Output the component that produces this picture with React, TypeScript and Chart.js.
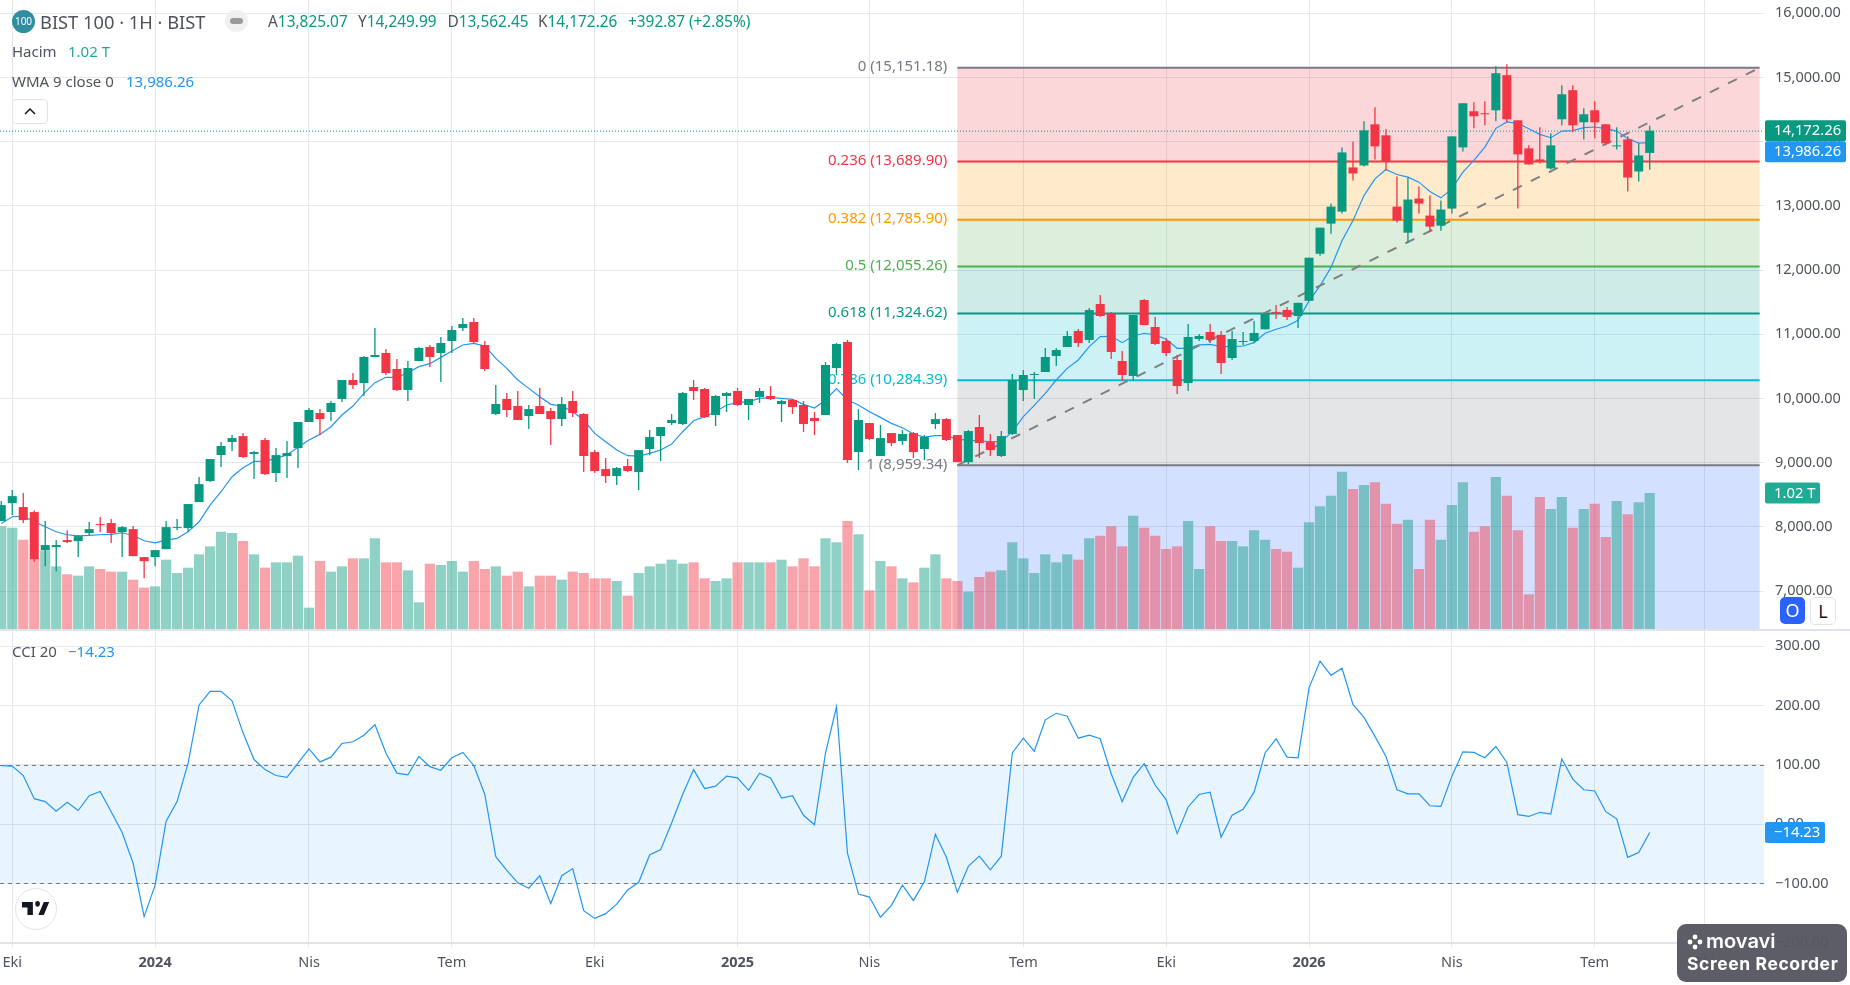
import React, { useEffect, useRef } from "react";
import { Chart, registerables } from "chart.js";

Chart.register(...registerables);

const FONT = '"Noto Sans", Roboto, sans-serif';

const opens = [
  8091,8371,8309,8231,7639,7685,7795,7779,7904,8044,
  8060,7919,7966,7530,7530,7654,7982,7982,8387,8714,
  9119,9322,9415,9135,9353,8839,9104,9228,9634,9774,
  9790,9992,10288,10241,10647,10709,10460,10132,10584,10803,
  10709,10896,11099,11192,10834,9758,9992,9883,9727,9883,
  9805,9680,9961,9758,9166,8901,8792,8948,8854,9213,
  9415,9618,9602,10179,10148,9743,10039,10117,9899,10023,
  10039,9914,9977,9899,9696,9743,10475,10880,9166,9618,
  9104,9462,9338,9462,9213,9602,9680,9431,9010,9556,
  9322,9104,9447,10132,10366,10413,10662,10803,11052,10912,
  11472,11317,10584,10351,11534,11114,10896,10600,10241,10927,
  11036,10990,10631,10880,10896,11078,11349,11380,11286,11521,
  12255,12724,12911,13599,13630,14271,14099,12989,12583,13114,
  12849,12693,12958,13911,14474,14443,14489,15036,14333,13896,
  13724,13583,14349,14802,14302,14489,14271,13927,14036,13536,
  13825.07,
];
const highs = [
  8402,8574,8527,8257,8091,7795,7950,7873,8075,8153,
  8122,8013,8013,7530,7639,8091,8122,8356,8776,9057,
  9322,9431,9462,9182,9384,9228,9338,9634,9852,9836,
  9961,10288,10397,10662,11099,10771,10615,10584,10803,10834,
  10958,11130,11254,11254,10896,10210,10086,10117,9899,10164,
  9852,10023,10117,9774,9197,9073,8932,9057,9197,9509,
  9556,9758,10101,10288,10164,10054,10101,10164,9992,10164,
  10195,9977,9992,9961,9790,10569,10865,10912,9836,9618,
  9587,9462,9509,9478,9431,9774,9696,9431,9509,9743,
  9447,9493,10382,10444,10413,10787,10787,11052,11083,11410,
  11612,11348,10740,11301,11550,11270,10943,10678,11161,11005,
  11161,11052,11052,11036,11208,11318,11458,11427,11490,12193,
  12661,13036,13911,14005,14317,14536,14192,13458,13442,13302,
  13161,13083,14083,14599,14614,14630,15177,15208,14333,13943,
  14224,14130,14880,14880,14521,14630,14271,14224,14083,13974,
  14249.99,
];
const lows = [
  8091,8184,8060,7457,7389,7311,7748,7530,7857,7919,
  7748,7530,7545,7202,7389,7654,7950,7919,8387,8699,
  8932,9182,9073,8745,8808,8699,8761,8917,9634,9431,
  9649,9945,10148,10039,10647,10366,10117,9961,10584,10491,
  10257,10709,11052,10849,10428,9743,9711,9665,9525,9758,
  9275,9571,9711,8854,8839,8683,8652,8854,8574,9119,
  9026,9587,9587,9977,9696,9571,9790,9883,9665,9930,
  9977,9634,9758,9478,9431,9743,10366,8995,8886,9353,
  9104,9260,9275,9073,9041,9525,9338,9010,8979,9073,
  9104,9088,9431,9961,9992,10413,10506,10803,10803,10865,
  11270,10615,10273,10288,11145,10834,10662,10070,10117,10896,
  10865,10382,10600,10833,10865,11078,11240,11224,11099,11521,
  12224,12568,12880,13396,13614,13724,13552,12740,12427,12880,
  12599,12614,12880,13849,14208,14255,14317,14302,12958,13646,
  13661,13568,14255,14146,14036,14052,13943,13880,13224,13380,
  13562.45,
];
const closes = [
  8340,8480,8106,7498,7717,7717,7764,7857,7966,8028,
  7904,7997,7545,7467,7639,7997,7997,8356,8667,9057,
  9260,9384,9088,9166,8823,9119,9150,9634,9821,9680,
  9930,10288,10210,10647,10678,10397,10132,10475,10787,10647,
  10865,11067,11161,10880,10460,9914,9821,9665,9836,9758,
  9680,9914,9774,9104,8870,8792,8917,8870,9197,9400,
  9556,9665,10086,10117,9711,10039,10086,9899,9992,10117,
  9992,9961,9867,9602,9649,10522,10849,9041,9665,9369,
  9384,9306,9447,9166,9400,9680,9353,9010,9493,9306,
  9197,9415,10288,10366,10382,10647,10756,10974,10865,11379,
  11285,10725,10366,11301,11145,10849,10709,10195,10958,10974,
  10912,10553,10927,10896,11021,11318,11333,11271,11490,12193,
  12661,12989,13833,13505,14177,13927,13693,12771,13099,13036,
  12677,12943,14083,14599,14396,14427,15067,14349,13802,13646,
  13693,13943,14739,14255,14427,14302,13974,13943,13442,13786,
  14172.26,
];
const volumes = [
  0.77,0.76,0.67,0.53,0.59,0.47,0.41,0.40,0.47,0.45,
  0.43,0.43,0.37,0.31,0.32,0.52,0.42,0.46,0.56,0.62,
  0.73,0.72,0.66,0.56,0.46,0.50,0.50,0.55,0.16,0.51,
  0.43,0.47,0.53,0.53,0.68,0.50,0.50,0.44,0.20,0.49,
  0.48,0.51,0.43,0.51,0.45,0.47,0.40,0.43,0.32,0.40,
  0.40,0.37,0.43,0.42,0.38,0.38,0.36,0.25,0.42,0.47,
  0.49,0.52,0.49,0.50,0.38,0.36,0.38,0.50,0.50,0.50,
  0.50,0.52,0.47,0.53,0.47,0.68,0.65,0.81,0.71,0.29,
  0.51,0.47,0.38,0.35,0.46,0.56,0.38,0.36,0.28,0.39,
  0.43,0.44,0.65,0.53,0.42,0.56,0.50,0.56,0.52,0.68,
  0.70,0.77,0.62,0.85,0.76,0.70,0.60,0.62,0.81,0.45,
  0.77,0.66,0.66,0.62,0.74,0.67,0.60,0.58,0.46,0.80,
  0.92,1.00,1.18,1.05,1.08,1.10,0.94,0.79,0.82,0.45,
  0.82,0.67,0.93,1.10,0.73,0.77,1.14,1.00,0.74,0.26,
  0.99,0.90,0.99,0.76,0.90,0.94,0.69,0.96,0.86,0.95,
  1.02,
];
const wma9 = [
  8054,8158,8168,8080,8002,7924,7878,7862,7867,7878,
  7883,7909,7867,7784,7753,7795,7821,7924,8080,8340,
  8548,8782,8922,9021,9021,9067,9119,9239,9353,9441,
  9561,9743,9883,10080,10247,10330,10330,10402,10496,10543,
  10641,10740,10834,10860,10818,10626,10470,10288,10158,10028,
  9909,9883,9795,9665,9457,9327,9197,9109,9104,9145,
  9197,9291,9483,9654,9717,9795,9899,9935,9951,10003,
  10013,10003,9987,9909,9852,9977,10153,9977,9899,9795,
  9706,9613,9545,9447,9400,9421,9421,9364,9353,9338,
  9327,9327,9483,9717,9893,10080,10288,10470,10600,10808,
  10964,10969,10870,10974,11016,10990,10922,10782,10782,10834,
  10844,10808,10808,10818,10870,11016,11078,11130,11219,11521,
  11755,12042,12458,12771,13161,13422,13568,13489,13448,13370,
  13224,13125,13265,13526,13708,13916,14208,14307,14286,14203,
  14114,14062,14166,14172,14219,14229,14203,14166,14047,13979,
  13986.26,
];
const cci20 = [
  98.6,98,82,43,38,22,37,23,48,55,
  21,-14,-66,-156,-103,5,38,103,201,224,
  224,208,154,109,92,82,79,103,127,105,
  113,136,139,150,168,120,86,83,114,97,
  91,112,121,99,50,-55,-78,-99,-108,-87,
  -134,-87,-75,-146,-159,-151,-135,-111,-98,-52,
  -43,2,50,92,60,64,81,78,57,86,
  78,44,48,15,-1,120,198,-49,-118,-123,
  -157,-137,-103,-129,-97,-17,-56,-115,-71,-54,
  -77,-54,120,145,123,176,187,182,145,150,
  144,85,38,79,102,66,41,-16,29,50,
  54,-22,15,25,54,120,144,113,112,230,
  275,251,263,202,180,148,114,58,51,51,
  31,30,81,122,121,112,131,104,16,13,
  20,17,110,76,58,56,21,9,-56,-48,
  -14.23,
];

const timeTickIndex = [1, 14, 28, 41, 54, 67, 79, 93, 106, 119, 132, 145, 155];
const timeTickLabels = ["Eki", "2024", "Nis", "Tem", "Eki", "2025", "Nis", "Tem", "Eki", "2026", "Nis", "Tem", "Eki"];
const priceTicks = [7000, 8000, 9000, 10000, 11000, 12000, 13000, 14000, 15000, 16000];
const cciTicks = [-200, -100, 0, 100, 200, 300];

const fibRatios = [0, 0.236, 0.382, 0.5, 0.618, 0.786, 1];
const fibValues = [15151.18, 13689.9, 12785.9, 12055.26, 11324.62, 10284.39, 8959.34];
const fibColors = ["#787b86", "#f23645", "#ff9800", "#4caf50", "#089981", "#00bcd4", "#787b86"];
const fibFills = [
  "rgba(242,54,69,0.2)", "rgba(255,152,0,0.2)", "rgba(76,175,80,0.2)",
  "rgba(8,153,129,0.2)", "rgba(0,188,212,0.2)", "rgba(120,123,134,0.2)", "rgba(41,98,255,0.2)",
];
const fibStartIndex = 87;
const fibEndIndex = 160;
const cciBand = [-100, 100];

const UP = "#089981";
const DOWN = "#f23645";
const BLUE = "#2196f3";
const GRID = "#e7e8ea";
const AXIS_TEXT = "#50535e";

const X_MIN = -0.1156;
const X_MAX = 160.4;
const AXIS_W = 86;

const isUp = (i: number) => closes[i] >= opens[i];
const fmt = (v: number) =>
  v.toLocaleString("en-US", { minimumFractionDigits: 2, maximumFractionDigits: 2 });
const signed = (v: number) => (v < 0 ? "\u2212" + fmt(-v) : fmt(v));

const xTicks = () => timeTickIndex.map((value) => ({ value }));
const noPad = (s: any) => {
  s.paddingTop = 0;
  s.paddingBottom = 0;
  s.paddingLeft = 0;
  s.paddingRight = 0;
};

function badge(ctx: CanvasRenderingContext2D, x: number, y: number, w: number, h: number, color: string, text: string) {
  ctx.save();
  ctx.fillStyle = color;
  ctx.beginPath();
  ctx.roundRect(x, y, w, h, 2);
  ctx.fill();
  ctx.fillStyle = "#fff";
  ctx.font = `14.8px ${FONT}`;
  ctx.textAlign = "left";
  ctx.textBaseline = "middle";
  ctx.fillText(text, x + 9, y + h / 2 + 0.5);
  ctx.restore();
}

const fibPlugin = {
  id: "fib",
  beforeDatasetsDraw(chart: any) {
    const { ctx, chartArea, scales } = chart;
    const l = scales.x.getPixelForValue(fibStartIndex);
    const r = scales.x.getPixelForValue(fibEndIndex);
    ctx.save();
    fibFills.forEach((c, i) => {
      const t = scales.y.getPixelForValue(fibValues[i]);
      const b = i + 1 < fibValues.length ? scales.y.getPixelForValue(fibValues[i + 1]) : chartArea.bottom;
      ctx.fillStyle = c;
      ctx.fillRect(l, t, r - l, b - t);
    });
    fibValues.forEach((v, i) => {
      const y = scales.y.getPixelForValue(v);
      ctx.strokeStyle = fibColors[i];
      ctx.lineWidth = 2;
      ctx.beginPath();
      ctx.moveTo(l, y);
      ctx.lineTo(r, y);
      ctx.stroke();
      ctx.fillStyle = fibColors[i];
      ctx.font = `15px ${FONT}`;
      ctx.textAlign = "right";
      ctx.textBaseline = "middle";
      ctx.fillText(`${fibRatios[i]} (${fmt(v)})`, l - 10, y - 1);
    });
    const lastY = scales.y.getPixelForValue(closes[closes.length - 1]);
    ctx.strokeStyle = UP;
    ctx.lineWidth = 1;
    ctx.setLineDash([1, 2]);
    ctx.beginPath();
    ctx.moveTo(chartArea.left, lastY + 0.5);
    ctx.lineTo(chartArea.right, lastY + 0.5);
    ctx.stroke();
    ctx.restore();
  },
  afterDraw(chart: any) {
    const { ctx, scales } = chart;
    const lastY = scales.y.getPixelForValue(closes[closes.length - 1]);
    const lastV = scales.vol.getPixelForValue(volumes[volumes.length - 1]);
    badge(ctx, 1765, lastY - 10.5, 81, 21, UP, fmt(closes[closes.length - 1]));
    badge(ctx, 1765, lastY + 10.5, 81, 21, BLUE, fmt(wma9[wma9.length - 1]));
    badge(ctx, 1765, lastV - 10.5, 55, 21, "#22ab94", `${volumes[volumes.length - 1].toFixed(2)} T`);
  },
};

const cciPlugin = {
  id: "cciBand",
  beforeDatasetsDraw(chart: any) {
    const { ctx, chartArea, scales } = chart;
    const t = scales.y.getPixelForValue(cciBand[1]);
    const b = scales.y.getPixelForValue(cciBand[0]);
    ctx.save();
    ctx.fillStyle = "rgba(33,150,243,0.1)";
    ctx.fillRect(chartArea.left, t, chartArea.right - chartArea.left, b - t);
    ctx.strokeStyle = "#787b86";
    ctx.lineWidth = 1;
    ctx.setLineDash([4, 4]);
    [t, b].forEach((y) => {
      ctx.beginPath();
      ctx.moveTo(chartArea.left, Math.round(y) + 0.5);
      ctx.lineTo(chartArea.right, Math.round(y) + 0.5);
      ctx.stroke();
    });
    ctx.restore();
  },
  afterDraw(chart: any) {
    const { ctx, scales } = chart;
    const v = cci20[cci20.length - 1];
    const y = scales.y.getPixelForValue(v);
    badge(ctx, 1765, y - 10.5, 60, 21, BLUE, signed(v));
  },
};

const abs = (left: number, top: number, extra: React.CSSProperties = {}): React.CSSProperties => ({
  position: "absolute",
  left,
  top,
  whiteSpace: "nowrap",
  lineHeight: "20px",
  ...extra,
});

export default function App() {
  const topRef = useRef<HTMLCanvasElement>(null);
  const botRef = useRef<HTMLCanvasElement>(null);

  useEffect(() => {
    document.body.style.margin = "0";
    document.body.style.background = "#fff";
    const idx = closes.map((_, i) => i);

    const top = new Chart(topRef.current!, {
      data: {
        datasets: [
          {
            type: "bar",
            order: 5,
            yAxisID: "vol",
            grouped: false,
            categoryPercentage: 1,
            barPercentage: 0.93,
            borderWidth: 0,
            data: idx.map((i) => ({ x: i, y: volumes[i] })),
            backgroundColor: idx.map((i) => (isUp(i) ? "rgba(8,153,129,0.45)" : "rgba(242,54,69,0.45)")),
          },
          {
            type: "line",
            order: 4,
            yAxisID: "y",
            data: idx.map((i) => ({ x: i, y: wma9[i] })),
            borderColor: BLUE,
            borderWidth: 1.2,
            pointRadius: 0,
            tension: 0,
          },
          {
            type: "line",
            order: 3,
            yAxisID: "y",
            data: [
              { x: fibStartIndex, y: fibValues[6] },
              { x: fibEndIndex, y: fibValues[0] },
            ],
            borderColor: "#808080",
            borderWidth: 2,
            borderDash: [10, 10],
            pointRadius: 0,
          },
          {
            type: "bar",
            order: 2,
            yAxisID: "y",
            grouped: false,
            categoryPercentage: 1,
            barPercentage: 0.12,
            borderWidth: 0,
            data: idx.map((i) => ({ x: i, y: [lows[i], highs[i]] })),
            backgroundColor: idx.map((i) => (isUp(i) ? UP : DOWN)),
          },
          {
            type: "bar",
            order: 1,
            yAxisID: "y",
            grouped: false,
            categoryPercentage: 1,
            barPercentage: 0.82,
            borderWidth: 0,
            data: idx.map((i) => ({ x: i, y: [opens[i], closes[i]] })),
            backgroundColor: idx.map((i) => (isUp(i) ? UP : DOWN)),
          },
        ] as any,
      },
      options: {
        responsive: false,
        animation: false,
        events: [],
        layout: { padding: 0 },
        plugins: { legend: { display: false }, tooltip: { enabled: false } },
        scales: {
          x: {
            type: "linear",
            min: X_MIN,
            max: X_MAX,
            offset: false,
            afterBuildTicks: (s: any) => { s.ticks = xTicks(); },
            afterFit: (s: any) => { s.height = 0; noPad(s); },
            ticks: { display: false, autoSkip: false },
            grid: { color: GRID, drawTicks: false, offset: false },
            border: { display: false },
          },
          y: {
            type: "linear",
            position: "right",
            min: 6410,
            max: 16207,
            afterBuildTicks: (s: any) => { s.ticks = priceTicks.map((value) => ({ value })); },
            afterFit: (s: any) => { s.width = AXIS_W; noPad(s); },
            ticks: {
              color: AXIS_TEXT,
              padding: 11,
              font: { family: FONT, size: 14.5 },
              callback: (v: any) => fmt(Number(v)),
            },
            grid: { color: GRID, drawTicks: false },
            border: { display: false },
          },
          vol: {
            type: "linear",
            display: false,
            min: 0,
            max: 4.7175,
          },
        },
      } as any,
      plugins: [fibPlugin],
    });

    const bot = new Chart(botRef.current!, {
      data: {
        datasets: [
          {
            type: "line",
            data: idx.map((i) => ({ x: i, y: cci20[i] })),
            borderColor: BLUE,
            borderWidth: 1.2,
            pointRadius: 0,
            tension: 0,
          },
        ] as any,
      },
      options: {
        responsive: false,
        animation: false,
        events: [],
        layout: { padding: 0 },
        plugins: { legend: { display: false }, tooltip: { enabled: false } },
        scales: {
          x: {
            type: "linear",
            min: X_MIN,
            max: X_MAX,
            offset: false,
            afterBuildTicks: (s: any) => { s.ticks = xTicks(); },
            afterFit: (s: any) => { s.height = 42; noPad(s); },
            ticks: {
              autoSkip: false,
              maxRotation: 0,
              padding: 7,
              color: AXIS_TEXT,
              font: (c: any) => {
                const lab = timeTickLabels[c.index];
                return { family: FONT, size: 14.5, weight: /^\d/.test(lab || "") ? "bold" : "normal" };
              },
              callback: (v: any) => timeTickLabels[timeTickIndex.indexOf(Number(v))],
            },
            grid: { color: GRID, tickLength: 4 },
            border: { color: "#e0e3eb", width: 2 },
          },
          y: {
            type: "linear",
            position: "right",
            min: -200.5,
            max: 327.5,
            afterBuildTicks: (s: any) => { s.ticks = cciTicks.map((value) => ({ value })); },
            afterFit: (s: any) => { s.width = AXIS_W; noPad(s); },
            ticks: {
              color: AXIS_TEXT,
              padding: 11,
              font: { family: FONT, size: 14.5 },
              callback: (v: any) => signed(Number(v)),
            },
            grid: { color: GRID, drawTicks: false },
            border: { display: false },
          },
        },
      } as any,
      plugins: [cciPlugin],
    });

    return () => {
      top.destroy();
      bot.destroy();
    };
  }, []);

  const dark: React.CSSProperties = { color: "#50535e" };
  const green: React.CSSProperties = { color: UP };
  const f15: React.CSSProperties = { fontSize: 15.4 };

  return (
    <div style={{ position: "fixed", left: 0, top: 0, width: 1850, height: 985, overflow: "hidden", background: "#fff", fontFamily: FONT }}>
      <canvas ref={topRef} width={1850} height={629} style={{ position: "absolute", left: 0, top: 0 }} />
      <canvas ref={botRef} width={1850} height={355} style={{ position: "absolute", left: 0, top: 630 }} />
      <div style={{ position: "absolute", left: 0, top: 629, width: 1850, height: 1.5, background: "#e0e3eb" }} />

      <div style={{ position: "absolute", left: 12, top: 10, width: 23, height: 23, borderRadius: "50%", background: "#2f8fa0", color: "#fff", fontSize: 10, textAlign: "center", lineHeight: "23px" }}>100</div>
      <div style={abs(40, 12, { ...dark, fontSize: 18.3 })}>BIST 100 · 1H · BIST</div>
      <div style={{ position: "absolute", left: 225, top: 10, width: 23, height: 22, borderRadius: "50%", background: "#f0f0f0" }}>
        <div style={{ position: "absolute", left: 5, top: 8, width: 13, height: 6, borderRadius: 3, background: "#9a9a9a" }} />
      </div>
      <div style={abs(268, 12, f15)}><span style={dark}>A</span><span style={green}>13,825.07</span></div>
      <div style={abs(358, 12, f15)}><span style={dark}>Y</span><span style={green}>14,249.99</span></div>
      <div style={abs(447.5, 12, f15)}><span style={dark}>D</span><span style={green}>13,562.45</span></div>
      <div style={abs(538, 12, f15)}><span style={dark}>K</span><span style={green}>14,172.26</span></div>
      <div style={abs(628, 12, { ...f15, ...green })}>+392.87 (+2.85%)</div>

      <div style={abs(12, 41, { ...dark, fontSize: 15 })}>Hacim</div>
      <div style={abs(68, 41, { color: "#22ab94", fontSize: 15 })}>1.02 T</div>
      <div style={abs(12, 71, { ...dark, fontSize: 15 })}>WMA 9 close 0</div>
      <div style={abs(126, 71, { color: BLUE, fontSize: 15 })}>13,986.26</div>
      <div style={{ position: "absolute", left: 12, top: 99, width: 34, height: 23, border: "1px solid #e0e3eb", borderRadius: 4, background: "#fff" }}>
        <svg width="34" height="23" style={{ display: "block" }}>
          <path d="M12 14 L17 9 L22 14" fill="none" stroke="#131722" strokeWidth="1.5" />
        </svg>
      </div>

      <div style={abs(12, 641, { ...dark, fontSize: 15 })}>CCI 20</div>
      <div style={abs(68, 641, { color: BLUE, fontSize: 15 })}>{"\u2212"}14.23</div>

      <div style={{ position: "absolute", left: 1780, top: 597, width: 25, height: 27, borderRadius: 5, background: "#2962ff", color: "#fff", textAlign: "center", lineHeight: "27px", fontSize: 18 }}>O</div>
      <div style={{ position: "absolute", left: 1810, top: 597, width: 24, height: 26, borderRadius: 5, border: "1px solid #e0e3eb", background: "#fff", color: "#131722", textAlign: "center", lineHeight: "26px", fontSize: 18 }}>L</div>

      <div style={{ position: "absolute", left: 15, top: 888, width: 42, height: 42, borderRadius: "50%", background: "#fff", border: "1px solid #e0e3eb", boxSizing: "border-box" }}>
        <svg width="28" height="15" viewBox="0 5 36 16" preserveAspectRatio="none" style={{ position: "absolute", left: 6, top: 12 }}>
          <path d="M14 6H0v6h7v8h7V6Zm14 14h-7l7-14h7l-7 14Z" fill="#131722" />
          <circle cx="20" cy="8" r="3" fill="#131722" />
        </svg>
      </div>

      <div style={{ position: "absolute", left: 1677, top: 924, width: 170, height: 58, borderRadius: 9, background: "rgba(86,86,98,0.96)", color: "#fff" }}>
        <svg width="16" height="16" viewBox="0 0 16 16" style={{ position: "absolute", left: 10, top: 10 }}>
          <circle cx="8" cy="3" r="2.4" fill="#fff" /><circle cx="3" cy="8" r="2.4" fill="#fff" />
          <circle cx="13" cy="8" r="2.4" fill="#fff" /><circle cx="8" cy="13" r="2.4" fill="#fff" />
        </svg>
        <div style={abs(29, 7, { fontSize: 20, fontWeight: 600, fontFamily: "Inter, sans-serif" })}>movavi</div>
        <div style={abs(10, 30, { fontSize: 17.5, fontWeight: 700, fontFamily: "Inter, sans-serif", letterSpacing: 0.6 })}>Screen Recorder</div>
      </div>
    </div>
  );
}
